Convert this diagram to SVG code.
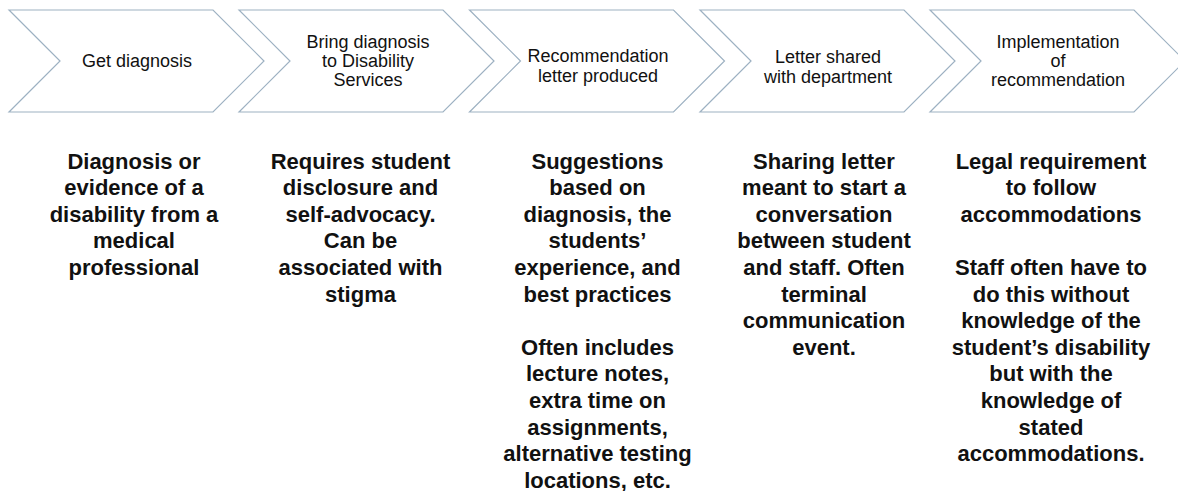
<svg xmlns="http://www.w3.org/2000/svg" width="1178" height="491" viewBox="0 0 1178 491">
<defs>
<style>
.chev{fill:#ffffff;stroke:#9db1c2;stroke-width:1.2}
.lbl{font-family:"Liberation Sans",Arial,sans-serif;font-size:18px;fill:#111;text-anchor:middle}
.desc{font-family:"Liberation Sans",Arial,sans-serif;font-size:22px;font-weight:bold;fill:#111;text-anchor:middle}
</style>
<path id="chevShape" d="M0,10 L204,10 L255,61 L204,112 L0,112 L51,61 Z"/>
</defs>
<rect width="1178" height="491" fill="#ffffff"/>
<g id="connectors"></g>
<g id="step1">
<use href="#chevShape" class="chev" x="9"/>
<text class="lbl" x="137" y="67">Get diagnosis</text>
</g>
<g id="step2">
<use href="#chevShape" class="chev" x="239"/>
<text class="lbl" x="368"><tspan x="368" y="48">Bring diagnosis</tspan><tspan x="368" y="67">to Disability</tspan><tspan x="368" y="86">Services</tspan></text>
</g>
<g id="step3">
<use href="#chevShape" class="chev" x="469.5"/>
<text class="lbl" x="598"><tspan x="598" y="62">Recommendation</tspan><tspan x="598" y="82">letter produced</tspan></text>
</g>
<g id="step4">
<use href="#chevShape" class="chev" x="700"/>
<text class="lbl" x="828"><tspan x="828" y="63">Letter shared</tspan><tspan x="828" y="83">with department</tspan></text>
</g>
<g id="step5">
<use href="#chevShape" class="chev" x="930"/>
<text class="lbl" x="1058"><tspan x="1058" y="48">Implementation</tspan><tspan x="1058" y="67">of</tspan><tspan x="1058" y="86">recommendation</tspan></text>
</g>
<g id="desc1">
<text class="desc"><tspan x="134" y="168.5">Diagnosis or</tspan><tspan x="134" y="195.1">evidence of a</tspan><tspan x="134" y="221.7">disability from a</tspan><tspan x="134" y="248.3">medical</tspan><tspan x="134" y="274.9">professional</tspan></text>
</g>
<g id="desc2">
<text class="desc"><tspan x="360.5" y="168.5">Requires student</tspan><tspan x="360.5" y="195.1">disclosure and</tspan><tspan x="360.5" y="221.7">self-advocacy.</tspan><tspan x="360.5" y="248.3">Can be</tspan><tspan x="360.5" y="274.9">associated with</tspan><tspan x="360.5" y="301.5">stigma</tspan></text>
</g>
<g id="desc3">
<text class="desc"><tspan x="597.5" y="168.5">Suggestions</tspan><tspan x="597.5" y="195.1">based on</tspan><tspan x="597.5" y="221.7">diagnosis, the</tspan><tspan x="597.5" y="248.3">students’</tspan><tspan x="597.5" y="274.9">experience, and</tspan><tspan x="597.5" y="301.5">best practices</tspan><tspan x="597.5" y="354.7">Often includes</tspan><tspan x="597.5" y="381.3">lecture notes,</tspan><tspan x="597.5" y="407.9">extra time on</tspan><tspan x="597.5" y="434.5">assignments,</tspan><tspan x="597.5" y="461.1">alternative testing</tspan><tspan x="597.5" y="487.7">locations, etc.</tspan></text>
</g>
<g id="desc4">
<text class="desc"><tspan x="824" y="168.5">Sharing letter</tspan><tspan x="824" y="195.1">meant to start a</tspan><tspan x="824" y="221.7">conversation</tspan><tspan x="824" y="248.3">between student</tspan><tspan x="824" y="274.9">and staff. Often</tspan><tspan x="824" y="301.5">terminal</tspan><tspan x="824" y="328.1">communication</tspan><tspan x="824" y="354.7">event.</tspan></text>
</g>
<g id="desc5">
<text class="desc"><tspan x="1051" y="168.5">Legal requirement</tspan><tspan x="1051" y="195.1">to follow</tspan><tspan x="1051" y="221.7">accommodations</tspan><tspan x="1051" y="274.9">Staff often have to</tspan><tspan x="1051" y="301.5">do this without</tspan><tspan x="1051" y="328.1">knowledge of the</tspan><tspan x="1051" y="354.7">student’s disability</tspan><tspan x="1051" y="381.3">but with the</tspan><tspan x="1051" y="407.9">knowledge of</tspan><tspan x="1051" y="434.5">stated</tspan><tspan x="1051" y="461.1">accommodations.</tspan></text>
</g>
</svg>
